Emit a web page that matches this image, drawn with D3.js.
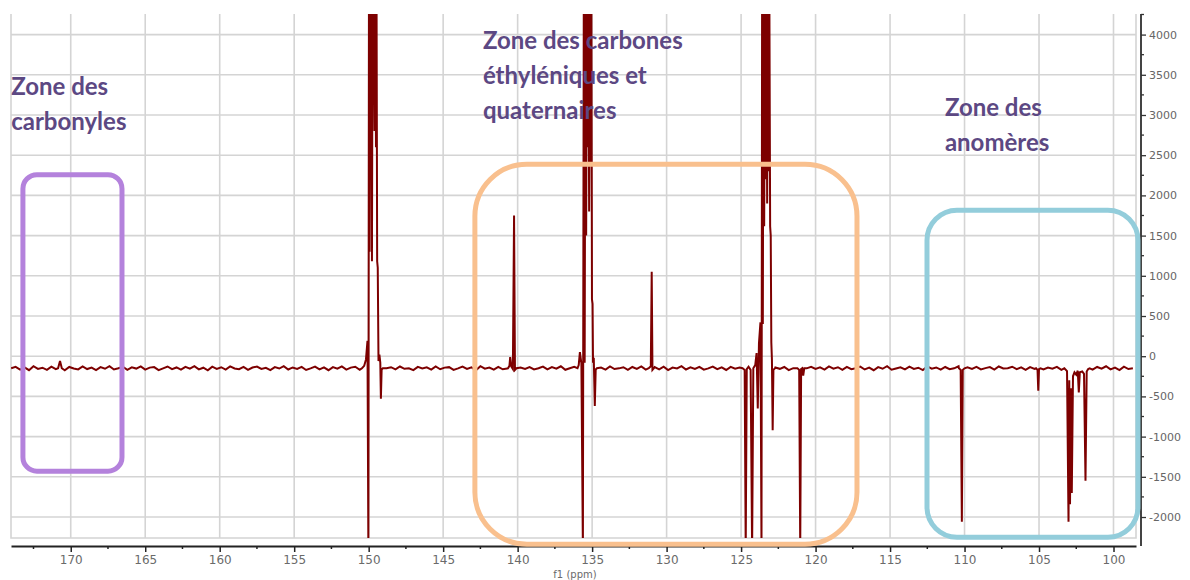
<!DOCTYPE html>
<html><head><meta charset="utf-8">
<script src="https://cdn.jsdelivr.net/npm/d3@7"></script>
<style>body{margin:0;background:#fff;overflow:hidden}</style>
</head><body>
<svg id="c" width="1190" height="580"></svg>
<script>
// ---------- data ----------
const ppmTicks = [170,165,160,155,150,145,140,135,130,125,120,115,110,105,100];
const ppmMinorTicks = [172.5,167.5,162.5,157.5,152.5,147.5,142.5,137.5,132.5,127.5,122.5,117.5,112.5,107.5,102.5];
const intensityTicks = [-2000,-1500,-1000,-500,0,500,1000,1500,2000,2500,3000,3500,4000];
const intensityMinorTicks = [-1750,-1250,-750,-250,250,750,1250,1750,2250,2750,3250,3750,4250];

// baseline (noise) sampled every 0.3 ppm starting at 174.0 ppm
const baselineStartPpm = 174.0;
const baselineStepPpm = 0.3;
const baselineEndPpm = 98.55;
const baselineValues = [
-150,-132,-166,-138,-174,-125,-158,-143,-170,-129,-161,-137,-176,-134,-152,-164,-127,-160,-141,-172,
-136,-156,-123,-165,-150,-131,-169,-139,-154,-126,-167,-142,-135,-173,-151,-128,-160,-140,-168,-133,
-155,-124,-164,-143,-175,-130,-157,-137,-166,-126,-152,-162,-134,-170,-141,-128,-158,-144,-172,-136,
-153,-123,-165,-140,-159,-132,-171,-151,-129,-163,-138,-174,-135,-156,-126,-166,-142,-131,-168,-154,
-134,-160,-125,-169,-149,-137,-164,-128,-157,-150,-173,-133,-153,-139,-167,-127,-162,-142,-136,-170,
-151,-130,-159,-138,-175,-124,-155,-141,-168,-132,-163,-152,-127,-171,-140,-158,-135,-165,-149,-129,
-164,-136,-156,-125,-169,-150,-133,-162,-139,-174,-131,-154,-142,-166,-128,-160,-151,-137,-170,-134,
-157,-126,-167,-143,-135,-163,-130,-172,-141,-153,-124,-165,-139,-159,-132,-168,-152,-129,-162,-138,
-171,-133,-155,-142,-127,-166,-150,-136,-161,-125,-169,-140,-157,-134,-173,-149,-128,-164,-151,-131,
-159,-139,-167,-126,-154,-137,-170,-132,-162,-150,-129,-165,-141,-174,-135,-156,-124,-168,-152,-138,
-163,-130,-158,-143,-172,-127,-155,-140,-166,-134,-161,-151,-125,-169,-138,-157,-133,-164,-148,-136,
-167,-128,-153,-150,-131,-162,-139,-171,-135,-158,-126,-165,-141,-155,-132,-170,-149,-137,-161,-129,
-153,-140,-168,-134,-156,-125,-164,-142,-173,-130,-160,-151,-136,-166,-127,-154,-141,-162,-133,-150
];

// signals: [ppm, intensity]
const signalCarbonyl = [[170.85,-150],[170.72,-60],[170.6,-150]];
const signal150 = [[150.45,-150],[150.3,-120],[150.18,-40],[150.08,190],[150.02,-2400],[149.98,4400],[149.94,1300],[149.9,4400],
  [149.86,2600],[149.82,4400],[149.78,1180],[149.74,4400],[149.7,3200],[149.66,4400],[149.61,2800],[149.56,4400],
  [149.51,2600],[149.47,4400],[149.43,1180],[149.39,1100],[149.34,-60],[149.28,20],[149.22,-80],[149.18,-530],[149.13,-165],[149.05,-150]];
const signal140 = [[140.65,-150],[140.55,-120],[140.5,-10],[140.42,-130],[140.32,-160],[140.24,1750],[140.18,-170],[140.08,-150]];
const signal135 = [[135.98,-150],[135.9,-110],[135.82,50],[135.72,-90],[135.62,-2400],[135.56,4400],[135.5,-80],[135.45,4400],
  [135.4,1500],[135.35,4400],[135.3,2600],[135.25,4400],[135.2,1800],[135.15,4400],[135.1,2400],[135.05,4400],[135.01,707],[134.97,650],
  [134.94,-80],[134.89,-20],[134.82,-620],[134.76,-165],[134.68,-150]];
const signal131 = [[131.2,-150],[131.06,-125],[131.0,1050],[130.95,-170],[130.85,-150]];
const signal123 = [[124.9,-150],[124.76,-170],[124.69,-2400],[124.62,-160],[124.5,-130],[124.36,-170],[124.26,-2400],[124.18,-150],
  [124.05,-110],[123.96,40],[123.88,-650],[123.8,160],[123.7,420],[123.63,-2400],[123.59,4400],[123.54,400],[123.5,4400],
  [123.45,1617],[123.4,4400],[123.35,2200],[123.3,4400],[123.25,1900],[123.2,4400],[123.15,2300],[123.1,4400],[123.05,1617],[123.01,1500],
  [122.97,170],[122.93,-40],[122.88,-920],[122.83,-170],[122.72,-150]];
const signal121 = [[121.22,-150],[121.1,-170],[121.03,-2400],[120.97,-160],[120.9,-150],[120.83,-240],[120.76,-150]];
const signal110 = [[110.38,-150],[110.26,-170],[110.18,-2060],[110.12,-170],[110.0,-150]];
const signal105 = [[105.2,-150],[105.1,-170],[105.05,-430],[105.0,-160],[104.9,-150]];
const signal103 = [[103.3,-150],[103.12,-185],[103.02,-2060],[102.97,-300],[102.92,-1840],[102.86,-400],[102.8,-1700],
  [102.72,-250],[102.62,-200],[102.5,-230],[102.4,-180],[102.33,-450],[102.26,-200],[102.1,-190],[101.98,-220],
  [101.88,-1550],[101.8,-190],[101.7,-160],[101.6,-150]];
const signals = [signalCarbonyl, signal150, signal140, signal135, signal131, signal123, signal121, signal110, signal105, signal103];

// annotation zones: [ppmLeft, ppmRight, intensityTop, intensityBottom]
const zoneCarbonyles = [173.21, 166.56, 2257, -1430];
const zoneEthyleniques = [142.87, 117.22, 2388, -2338];
const zoneAnomeres = [112.52, 98.36, 1816, -2251];
const labelCarbonyles = ["Zone des", "carbonyles"];
const labelEthyleniques = ["Zone des carbones", "éthyléniques et", "quaternaires"];
const labelAnomeres = ["Zone des", "anomères"];

// ---------- chart ----------
const svg = d3.select("#c");
const L = 11, R = 1136, T = 14, B = 538;
const x = d3.scaleLinear().domain([174.01, 98.49]).range([L, R]);
const y = d3.scaleLinear().domain([-2261, 4256]).range([B, T]);

// grid
const grid = svg.append("g").attr("stroke", "#d4d4d4").attr("stroke-width", 1.6);
grid.selectAll(".v").data(ppmTicks).join("line")
  .attr("x1", d => x(d)).attr("x2", d => x(d)).attr("y1", T).attr("y2", B);
grid.selectAll(".h").data(intensityTicks).join("line")
  .attr("x1", L).attr("x2", R).attr("y1", d => y(d)).attr("y2", d => y(d));
grid.append("path").attr("fill", "none")
  .attr("d", `M${L},${T}V${B}H${R}V${T}`);

// x axis (bottom)
const xAxisY = 546;
const gx = svg.append("g").attr("transform", `translate(0,${xAxisY})`)
  .call(d3.axisBottom(x).tickValues(ppmTicks).tickSize(6).tickSizeOuter(0).tickPadding(3).tickFormat(d => String(d)));
gx.select(".domain").attr("stroke", "#222").attr("stroke-width", 2);
gx.selectAll(".tick line").attr("stroke", "#222").attr("stroke-width", 1.5);
gx.selectAll(".tick text").attr("fill", "#6a6a6a").attr("font-family", "DejaVu Sans").attr("font-size", 12);
svg.append("g").attr("transform", `translate(0,${xAxisY})`)
  .selectAll("line").data(ppmMinorTicks).join("line")
  .attr("x1", d => x(d)).attr("x2", d => x(d)).attr("y1", 0).attr("y2", 3)
  .attr("stroke", "#222").attr("stroke-width", 1.5);
svg.append("text").attr("x", 575).attr("y", 578).attr("text-anchor", "middle")
  .attr("font-family", "DejaVu Sans").attr("font-size", 10).attr("fill", "#6a6a6a").text("f1 (ppm)");

// y axis (right)
const yAxisX = 1141;
const gy = svg.append("g").attr("transform", `translate(${yAxisX},0)`)
  .call(d3.axisRight(y).tickValues(intensityTicks).tickSize(5).tickSizeOuter(0).tickPadding(3).tickFormat(d => String(d)));
gy.select(".domain").attr("stroke", "#444").attr("stroke-width", 2).attr("d", `M0,${T}V${xAxisY}`);
gy.selectAll(".tick line").attr("stroke", "#333").attr("stroke-width", 1.3);
gy.selectAll(".tick text").attr("fill", "#666").attr("font-family", "DejaVu Sans").attr("font-size", 11);
svg.append("g").attr("transform", `translate(${yAxisX},0)`)
  .selectAll("line").data(intensityMinorTicks).join("line")
  .attr("x1", 0).attr("x2", 3).attr("y1", d => y(d)).attr("y2", d => y(d))
  .attr("stroke", "#333").attr("stroke-width", 1.3);

// spectrum
const ranges = signals.map(s => [d3.min(s, d => d[0]), d3.max(s, d => d[0])]);
const baseline = baselineValues.map((v, i) => [baselineStartPpm - i * baselineStepPpm, v])
  .filter(d => d[0] >= baselineEndPpm)
  .filter(d => !ranges.some(r => d[0] >= r[0] && d[0] <= r[1]));
const spectrum = baseline.concat(...signals).sort((a, b) => b[0] - a[0]);

svg.append("clipPath").attr("id", "clip").append("rect")
  .attr("x", L).attr("y", T).attr("width", R - L).attr("height", B - T);
svg.append("path").datum(spectrum)
  .attr("clip-path", "url(#clip)")
  .attr("fill", "none").attr("stroke", "#7d0000").attr("stroke-width", 2)
  .attr("stroke-linejoin", "miter")
  .attr("d", d3.line().x(d => x(d[0])).y(d => y(d[1])));

// zone boxes
const zones = [
  {z: zoneCarbonyles, color: "#b482dc", r: 14},
  {z: zoneEthyleniques, color: "#f9c08e", r: 52},
  {z: zoneAnomeres, color: "#93cddb", r: 30}
];
svg.selectAll(".zone").data(zones).join("rect")
  .attr("x", d => x(d.z[0])).attr("y", d => y(d.z[2]))
  .attr("width", d => x(d.z[1]) - x(d.z[0])).attr("height", d => y(d.z[3]) - y(d.z[2]))
  .attr("rx", d => d.r).attr("ry", d => d.r)
  .attr("fill", "none").attr("stroke", d => d.color).attr("stroke-width", 5);

// zone labels: [lines, ppm anchor, intensity of first baseline]
const labels = [
  {lines: labelCarbonyles, ppm: 174.0, top: 3246},
  {lines: labelEthyleniques, ppm: 142.33, top: 3818},
  {lines: labelAnomeres, ppm: 111.32, top: 2985}
];
labels.forEach(l => {
  const t = svg.append("text").attr("font-family", "Lato").attr("font-weight", "bold")
    .attr("font-size", 24).attr("fill", "#5c4883");
  l.lines.forEach((s, i) => {
    t.append("tspan").attr("x", x(l.ppm)).attr("y", y(l.top) + i * 35).text(s);
  });
});
</script>
</body></html>
